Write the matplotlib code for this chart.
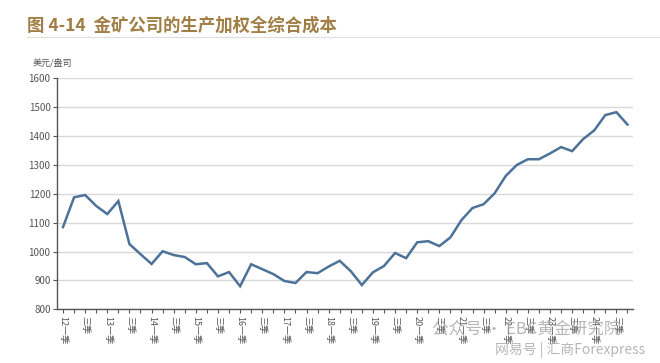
import matplotlib.pyplot as plt

plt.rcParams['font.family'] = ['Noto Sans CJK SC', 'DejaVu Sans']

# 2012一季 ~ 2024四季, 季度数据
quarters = []
for yr in range(12, 25):
    for q in ['一季', '二季', '三季', '四季']:
        quarters.append(f'{yr}{q}')

cost = [1085, 1188, 1196, 1158, 1130, 1175, 1026, 991, 957, 1001,
        988, 981, 956, 960, 914, 929, 880, 956, 939, 922,
        898, 891, 929, 925, 948, 968, 932, 884, 928, 950,
        995, 977, 1032, 1036, 1019, 1049, 1109, 1151, 1164, 1202,
        1262, 1300, 1320, 1320, 1340, 1362, 1348, 1390, 1420, 1473,
        1483, 1440]

# only 一季 / 三季 get a label
tick_labels = []
for lab in quarters:
    if lab.endswith('一季'):
        tick_labels.append(lab)
    elif lab.endswith('三季'):
        tick_labels.append('三季')
    else:
        tick_labels.append('')

fig = plt.figure(figsize=(6.6, 3.63), dpi=100)
ax = fig.add_axes([0.0871, 0.148, 0.872, 0.636])

x = list(range(len(cost)))
ax.plot(x, cost, color='#4C7299', lw=1.8, solid_joinstyle='miter')

ax.set_ylim(800, 1600)
ax.set_yticks(range(800, 1601, 100))
ax.set_xlim(-0.5, len(cost) - 0.5)
ax.set_xticks(x)
ax.set_xticklabels(tick_labels, rotation=-90, fontsize=6.5, color='#555555')
ax.tick_params(axis='y', labelsize=7, colors='#555555', length=3, width=0.8, pad=2)
ax.tick_params(axis='x', length=3, width=0.8, color='#555555', pad=2)

ax.grid(axis='y', color='#D9D9D9', lw=1)
ax.set_axisbelow(True)
for s in ['top', 'right']:
    ax.spines[s].set_visible(False)
for s in ['left', 'bottom']:
    ax.spines[s].set_color('#555555')
    ax.spines[s].set_linewidth(1)

fig.text(0.041, 0.93, '图 4-14  金矿公司的生产加权全综合成本', fontsize=12.5,
         fontweight='bold', color='#A07E45', va='center', ha='left')
fig.add_artist(plt.Line2D([0.041, 1.0], [0.897, 0.897], color='#DDDDDD', lw=0.8))
fig.text(0.05, 0.828, '美元/盎司', fontsize=6.5, color='#555555', va='center')

# watermark
fig.text(0.655, 0.095, '公众号 · EBC黄金研究院', fontsize=12, color='#999999',
         alpha=0.7, va='center')
fig.text(0.75, 0.035, '网易号 | 汇商Forexpress', fontsize=10, color='#999999',
         alpha=0.7, va='center')

fig.savefig('out.png', dpi=100)
